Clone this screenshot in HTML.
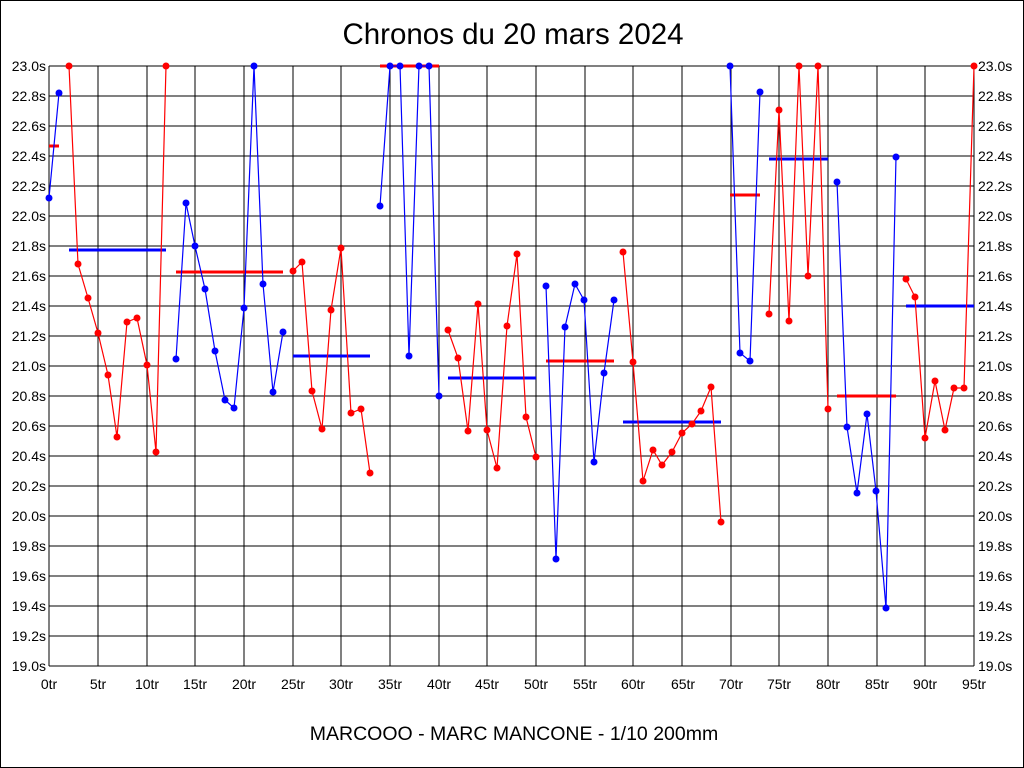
<!DOCTYPE html>
<html><head><meta charset="utf-8"><style>
html,body{margin:0;padding:0;background:#fff}
svg{display:block}
text{font-family:"Liberation Sans",sans-serif;fill:#000}
</style></head><body>
<svg width="1024" height="768" viewBox="0 0 1024 768" xmlns="http://www.w3.org/2000/svg">
<rect x="0.5" y="0.5" width="1023" height="767" fill="#fff" stroke="#000"/>
<text x="513" y="44" font-size="29.5" text-anchor="middle">Chronos du 20 mars 2024</text>
<text x="514" y="740" font-size="19.5" text-anchor="middle">MARCOOO - MARC MANCONE - 1/10 200mm</text>
<g stroke="#000" stroke-width="1" shape-rendering="crispEdges">
<path d="M49 66H974M49 96H974M49 126H974M49 156H974M49 186H974M49 216H974M49 246H974M49 276H974M49 306H974M49 336H974M49 366H974M49 396H974M49 426H974M49 456H974M49 486H974M49 516H974M49 546H974M49 576H974M49 606H974M49 636H974M49 666H974"/>
<path d="M49 66V666M98 66V666M147 66V666M195 66V666M244 66V666M293 66V666M341 66V666M390 66V666M439 66V666M487 66V666M536 66V666M585 66V666M633 66V666M682 66V666M731 66V666M779 66V666M828 66V666M877 66V666M925 66V666M974 66V666"/>
</g>
<g font-size="14" text-anchor="end">
<text x="46" y="71">23.0s</text><text x="46" y="101">22.8s</text><text x="46" y="131">22.6s</text><text x="46" y="161">22.4s</text><text x="46" y="191">22.2s</text><text x="46" y="221">22.0s</text><text x="46" y="251">21.8s</text><text x="46" y="281">21.6s</text><text x="46" y="311">21.4s</text><text x="46" y="341">21.2s</text><text x="46" y="371">21.0s</text><text x="46" y="401">20.8s</text><text x="46" y="431">20.6s</text><text x="46" y="461">20.4s</text><text x="46" y="491">20.2s</text><text x="46" y="521">20.0s</text><text x="46" y="551">19.8s</text><text x="46" y="581">19.6s</text><text x="46" y="611">19.4s</text><text x="46" y="641">19.2s</text><text x="46" y="671">19.0s</text>
</g>
<g font-size="14">
<text x="978" y="71">23.0s</text><text x="978" y="101">22.8s</text><text x="978" y="131">22.6s</text><text x="978" y="161">22.4s</text><text x="978" y="191">22.2s</text><text x="978" y="221">22.0s</text><text x="978" y="251">21.8s</text><text x="978" y="281">21.6s</text><text x="978" y="311">21.4s</text><text x="978" y="341">21.2s</text><text x="978" y="371">21.0s</text><text x="978" y="401">20.8s</text><text x="978" y="431">20.6s</text><text x="978" y="461">20.4s</text><text x="978" y="491">20.2s</text><text x="978" y="521">20.0s</text><text x="978" y="551">19.8s</text><text x="978" y="581">19.6s</text><text x="978" y="611">19.4s</text><text x="978" y="641">19.2s</text><text x="978" y="671">19.0s</text>
</g>
<g font-size="14" text-anchor="middle">
<text x="49" y="689">0tr</text><text x="98" y="689">5tr</text><text x="147" y="689">10tr</text><text x="195" y="689">15tr</text><text x="244" y="689">20tr</text><text x="293" y="689">25tr</text><text x="341" y="689">30tr</text><text x="390" y="689">35tr</text><text x="439" y="689">40tr</text><text x="487" y="689">45tr</text><text x="536" y="689">50tr</text><text x="585" y="689">55tr</text><text x="633" y="689">60tr</text><text x="683" y="689">65tr</text><text x="731" y="689">70tr</text><text x="779" y="689">75tr</text><text x="828" y="689">80tr</text><text x="877" y="689">85tr</text><text x="925" y="689">90tr</text><text x="974" y="689">95tr</text>
</g>
<g stroke-width="3" shape-rendering="crispEdges">
<path stroke="#f00" d="M49 146H59M176 272H283M380 66H439M546 361H614M730 195H760M837 396H896"/>
<path stroke="#00f" d="M69 250H166M293 356H370M448 378H536M623 422H721M769 159H828M906 306H974"/>
</g>
<g fill="none" stroke-width="1.2">
<polyline stroke="#00f" points="49,198 59,93"/>
<polyline stroke="#f00" points="69,66 78,264 88,298 98,333 108,375 117,437 127,322 137,318 147,365 156,452 166,66"/>
<polyline stroke="#00f" points="176,359 186,203 195,246 205,289 215,351 225,400 234,408 244,308 254,66 263,284 273,392 283,332"/>
<polyline stroke="#f00" points="293,271 302,262 312,391 322,429 331,310 341,248 351,413 361,409 370,473"/>
<polyline stroke="#00f" points="380,206 390,66 400,66 409,356 419,66 429,66 439,396"/>
<polyline stroke="#f00" points="448,330 458,358 468,431 478,304 487,430 497,468 507,326 517,254 526,417 536,457"/>
<polyline stroke="#00f" points="546,286 556,559 565,327 575,284 584,300 594,462 604,373 614,300"/>
<polyline stroke="#f00" points="623,252 633,362 643,481 653,450 662,465 672,452 682,433 692,424 701,411 711,387 721,522"/>
<polyline stroke="#00f" points="730,66 740,353 750,361 760,92"/>
<polyline stroke="#f00" points="769,314 779,110 789,321 799,66 808,276 818,66 828,409"/>
<polyline stroke="#00f" points="837,182 847,427 857,493 867,414 876,491 886,608 896,157"/>
<polyline stroke="#f00" points="906,279 915,297 925,438 935,381 945,430 954,388 964,388 974,66"/>
</g>
<g fill="#00f">
<circle cx="49" cy="198" r="3.5"/><circle cx="59" cy="93" r="3.5"/>
<circle cx="176" cy="359" r="3.5"/><circle cx="186" cy="203" r="3.5"/><circle cx="195" cy="246" r="3.5"/><circle cx="205" cy="289" r="3.5"/><circle cx="215" cy="351" r="3.5"/><circle cx="225" cy="400" r="3.5"/><circle cx="234" cy="408" r="3.5"/><circle cx="244" cy="308" r="3.5"/><circle cx="254" cy="66" r="3.5"/><circle cx="263" cy="284" r="3.5"/><circle cx="273" cy="392" r="3.5"/><circle cx="283" cy="332" r="3.5"/>
<circle cx="380" cy="206" r="3.5"/><circle cx="390" cy="66" r="3.5"/><circle cx="400" cy="66" r="3.5"/><circle cx="409" cy="356" r="3.5"/><circle cx="419" cy="66" r="3.5"/><circle cx="429" cy="66" r="3.5"/><circle cx="439" cy="396" r="3.5"/>
<circle cx="546" cy="286" r="3.5"/><circle cx="556" cy="559" r="3.5"/><circle cx="565" cy="327" r="3.5"/><circle cx="575" cy="284" r="3.5"/><circle cx="584" cy="300" r="3.5"/><circle cx="594" cy="462" r="3.5"/><circle cx="604" cy="373" r="3.5"/><circle cx="614" cy="300" r="3.5"/>
<circle cx="730" cy="66" r="3.5"/><circle cx="740" cy="353" r="3.5"/><circle cx="750" cy="361" r="3.5"/><circle cx="760" cy="92" r="3.5"/>
<circle cx="837" cy="182" r="3.5"/><circle cx="847" cy="427" r="3.5"/><circle cx="857" cy="493" r="3.5"/><circle cx="867" cy="414" r="3.5"/><circle cx="876" cy="491" r="3.5"/><circle cx="886" cy="608" r="3.5"/><circle cx="896" cy="157" r="3.5"/>
</g>
<g fill="#f00">
<circle cx="69" cy="66" r="3.5"/><circle cx="78" cy="264" r="3.5"/><circle cx="88" cy="298" r="3.5"/><circle cx="98" cy="333" r="3.5"/><circle cx="108" cy="375" r="3.5"/><circle cx="117" cy="437" r="3.5"/><circle cx="127" cy="322" r="3.5"/><circle cx="137" cy="318" r="3.5"/><circle cx="147" cy="365" r="3.5"/><circle cx="156" cy="452" r="3.5"/><circle cx="166" cy="66" r="3.5"/>
<circle cx="293" cy="271" r="3.5"/><circle cx="302" cy="262" r="3.5"/><circle cx="312" cy="391" r="3.5"/><circle cx="322" cy="429" r="3.5"/><circle cx="331" cy="310" r="3.5"/><circle cx="341" cy="248" r="3.5"/><circle cx="351" cy="413" r="3.5"/><circle cx="361" cy="409" r="3.5"/><circle cx="370" cy="473" r="3.5"/>
<circle cx="448" cy="330" r="3.5"/><circle cx="458" cy="358" r="3.5"/><circle cx="468" cy="431" r="3.5"/><circle cx="478" cy="304" r="3.5"/><circle cx="487" cy="430" r="3.5"/><circle cx="497" cy="468" r="3.5"/><circle cx="507" cy="326" r="3.5"/><circle cx="517" cy="254" r="3.5"/><circle cx="526" cy="417" r="3.5"/><circle cx="536" cy="457" r="3.5"/>
<circle cx="623" cy="252" r="3.5"/><circle cx="633" cy="362" r="3.5"/><circle cx="643" cy="481" r="3.5"/><circle cx="653" cy="450" r="3.5"/><circle cx="662" cy="465" r="3.5"/><circle cx="672" cy="452" r="3.5"/><circle cx="682" cy="433" r="3.5"/><circle cx="692" cy="424" r="3.5"/><circle cx="701" cy="411" r="3.5"/><circle cx="711" cy="387" r="3.5"/><circle cx="721" cy="522" r="3.5"/>
<circle cx="769" cy="314" r="3.5"/><circle cx="779" cy="110" r="3.5"/><circle cx="789" cy="321" r="3.5"/><circle cx="799" cy="66" r="3.5"/><circle cx="808" cy="276" r="3.5"/><circle cx="818" cy="66" r="3.5"/><circle cx="828" cy="409" r="3.5"/>
<circle cx="906" cy="279" r="3.5"/><circle cx="915" cy="297" r="3.5"/><circle cx="925" cy="438" r="3.5"/><circle cx="935" cy="381" r="3.5"/><circle cx="945" cy="430" r="3.5"/><circle cx="954" cy="388" r="3.5"/><circle cx="964" cy="388" r="3.5"/><circle cx="974" cy="66" r="3.5"/>
</g>
</svg>
</body></html>
